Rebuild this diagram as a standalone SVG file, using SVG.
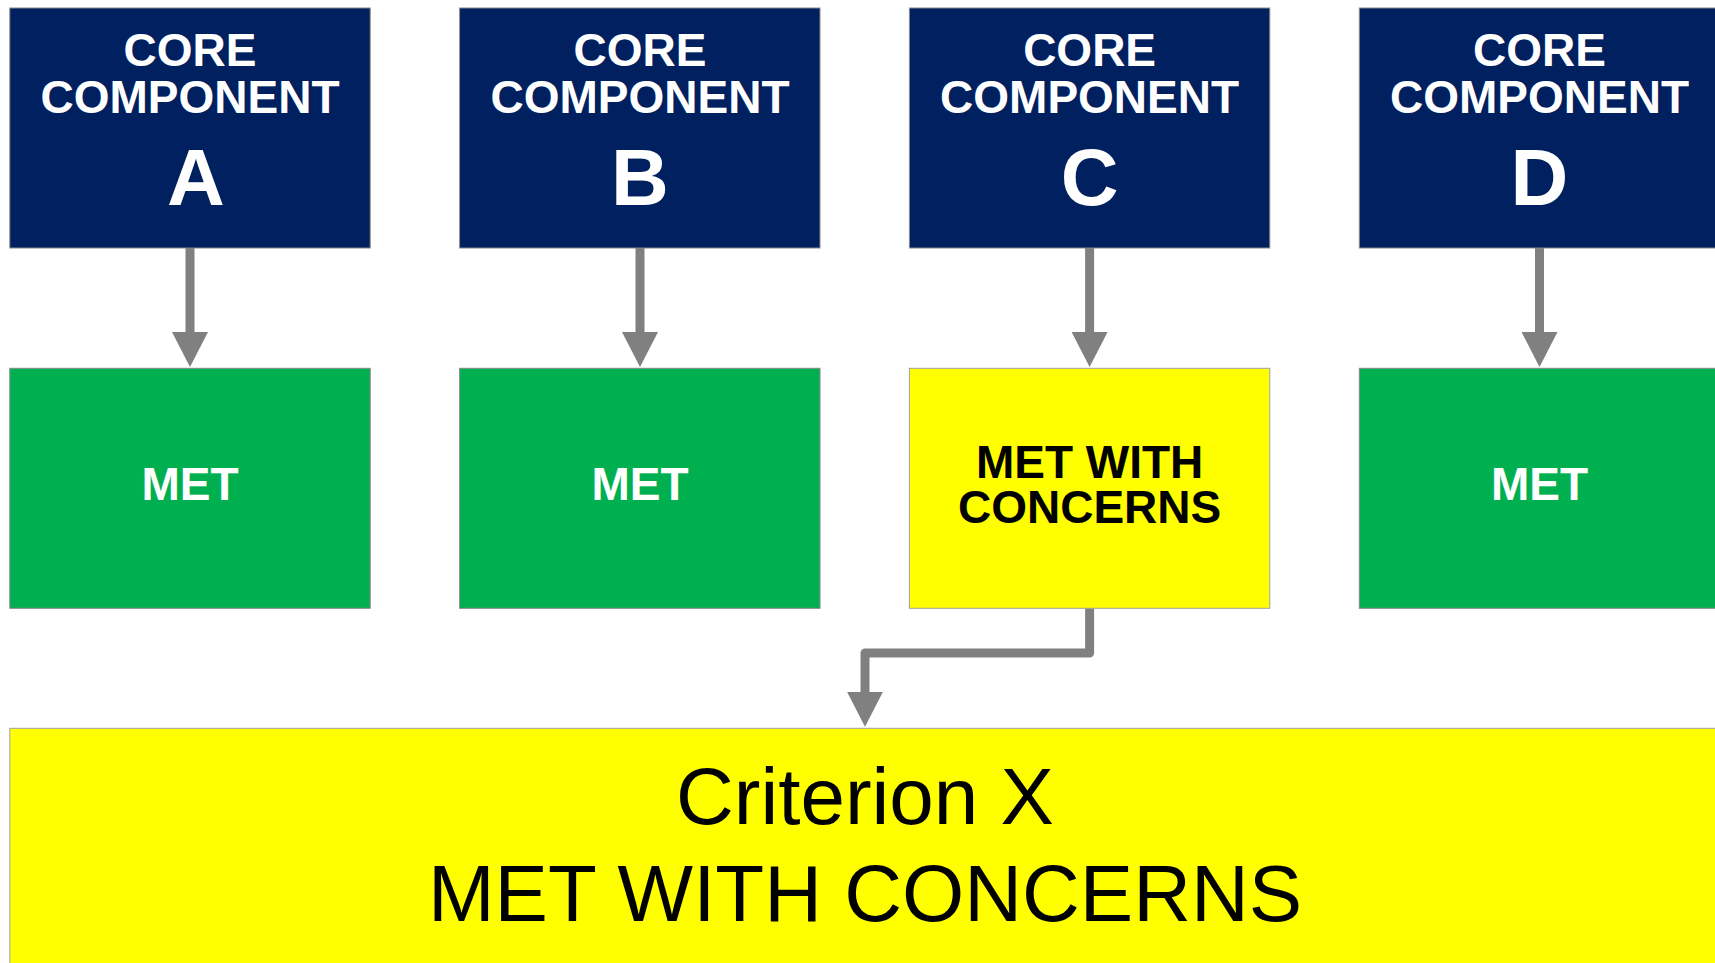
<svg xmlns="http://www.w3.org/2000/svg" width="1715" height="963" viewBox="0 0 1715 963">
<style>
.core{fill:#002060;stroke:#8a8a8a;stroke-width:1}
.met{fill:#00B050;stroke:#8a8a8a;stroke-width:1}
.concern{fill:#FFFF00;stroke:#a0a0a0;stroke-width:1}
.t{font-family:"Liberation Sans",Arial,sans-serif;text-anchor:middle}
.b{font-weight:bold}
.w{fill:#FFFFFF}
.k{fill:#000000}
.conn{fill:none;stroke:#808080;stroke-width:9;stroke-linejoin:round;marker-end:url(#ah)}
</style>
<defs>
<marker id="ah" viewBox="0 0 35 36" refX="4" refY="18" markerWidth="35" markerHeight="36" markerUnits="userSpaceOnUse" orient="auto">
<path d="M0,0 L35,18 L0,36 Z" fill="#808080"/>
</marker>
</defs>
<rect width="1715" height="963" fill="#FFFFFF"/>
<g id="connectors">
<path class="conn" d="M190,248 V336"/>
<path class="conn" d="M640,248 V336"/>
<path class="conn" d="M1089.6,248 V336"/>
<path class="conn" d="M1539.5,248 V336"/>
<path class="conn" d="M1089.6,608.3 V653 H865 V695.7"/>
</g>
<g id="core-a">
<rect class="core" x="9.8" y="8" width="360.4" height="240"/>
<text class="t b w" x="190" y="66" font-size="46">CORE</text>
<text class="t b w" x="190" y="113" font-size="46">COMPONENT</text>
<text class="t b w" x="196" y="205" font-size="80">A</text>
</g>
<g id="core-b">
<rect class="core" x="459.6" y="8" width="360.4" height="240"/>
<text class="t b w" x="640" y="66" font-size="46">CORE</text>
<text class="t b w" x="640" y="113" font-size="46">COMPONENT</text>
<text class="t b w" x="640" y="205" font-size="80">B</text>
</g>
<g id="core-c">
<rect class="core" x="909.4" y="8" width="360.4" height="240"/>
<text class="t b w" x="1089.6" y="66" font-size="46">CORE</text>
<text class="t b w" x="1089.6" y="113" font-size="46">COMPONENT</text>
<text class="t b w" x="1089.6" y="205" font-size="80">C</text>
</g>
<g id="core-d">
<rect class="core" x="1359.3" y="8" width="360.4" height="240"/>
<text class="t b w" x="1539.5" y="66" font-size="46">CORE</text>
<text class="t b w" x="1539.5" y="113" font-size="46">COMPONENT</text>
<text class="t b w" x="1539.5" y="205" font-size="80">D</text>
</g>
<g id="status-a">
<rect class="met" x="9.8" y="368.3" width="360.4" height="240"/>
<text class="t b w" x="190" y="500" font-size="46">MET</text>
</g>
<g id="status-b">
<rect class="met" x="459.6" y="368.3" width="360.4" height="240"/>
<text class="t b w" x="640" y="500" font-size="46">MET</text>
</g>
<g id="status-c">
<rect class="concern" x="909.4" y="368.3" width="360.4" height="240"/>
<text class="t b k" font-size="46"><tspan x="1089.6" y="477.7">MET WITH</tspan><tspan x="1089.6" y="523.3">CONCERNS</tspan></text>
</g>
<g id="status-d">
<rect class="met" x="1359.3" y="368.3" width="360.4" height="240"/>
<text class="t b w" x="1539.5" y="500" font-size="46">MET</text>
</g>
<g id="criterion-x">
<rect class="concern" x="9.8" y="728.3" width="1710" height="260"/>
<text class="t k" x="865" y="824.3" font-size="80">Criterion X</text>
<text class="t k" x="865" y="920.7" font-size="80">MET WITH CONCERNS</text>
</g>
</svg>
